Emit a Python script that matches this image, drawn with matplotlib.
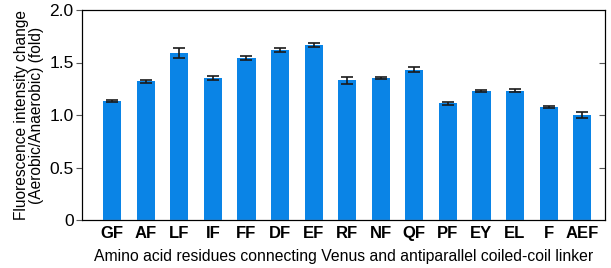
import matplotlib
matplotlib.use('Agg')
import matplotlib.pyplot as plt
import numpy as np

plt.rcParams['font.family'] = ['Liberation Sans', 'DejaVu Sans']

# linker residues and fold change values
labels = ['GF', 'AF', 'LF', 'IF', 'FF', 'DF', 'EF', 'RF', 'NF', 'QF', 'PF', 'EY', 'EL', 'F', 'AEF']
values = [1.13, 1.32, 1.59, 1.35, 1.54, 1.62, 1.67, 1.33, 1.35, 1.43, 1.11, 1.23, 1.23, 1.08, 1.00]
errors = [0.01, 0.015, 0.05, 0.02, 0.02, 0.02, 0.02, 0.03, 0.01, 0.025, 0.015, 0.01, 0.015, 0.01, 0.03]

fig = plt.figure(figsize=(6.11, 2.68), dpi=100)
ax = fig.add_axes([82/611, 1-220/268, (605-82)/611, (220-10)/268])

x = np.arange(len(labels))
ax.bar(x, values, width=0.54, color='#0a84e6', yerr=errors,
       error_kw=dict(ecolor='#1a1a1a', elinewidth=1.2, capsize=4, capthick=1.2))

ax.set_xlim(-0.9, len(labels) - 0.32)
ax.set_ylim(0, 2.0)
ax.set_yticks([0, 0.5, 1.0, 1.5, 2.0])
ax.set_yticklabels(['0', '0.5', '1.0', '1.5', '2.0'], fontsize=12.5)
ax.set_xticks(x)
ax.set_xticklabels(labels, fontsize=12, fontweight='bold')
ax.tick_params(axis='x', length=0, pad=4)
ax.tick_params(axis='y', direction='out', length=4, color='#555555', pad=2)
for s in ax.spines.values():
    s.set_color('#888888')
    s.set_linewidth(0.9)

# inward ticks on the right edge
ax2 = ax.twinx()
ax2.set_ylim(0, 2.0)
ax2.set_yticks([0.5, 1.0, 1.5])
ax2.tick_params(axis='y', direction='in', length=4, color='#555555', labelright=False)

ax.set_xlabel('Amino acid residues connecting Venus and antiparallel coiled-coil linker', fontsize=11.3, labelpad=6)
ax.set_ylabel('Fluorescence intensity change\n(Aerobic/Anaerobic) (fold)', fontsize=11.2, labelpad=4, linespacing=1.0)

fig.savefig('out.png', dpi=100)
